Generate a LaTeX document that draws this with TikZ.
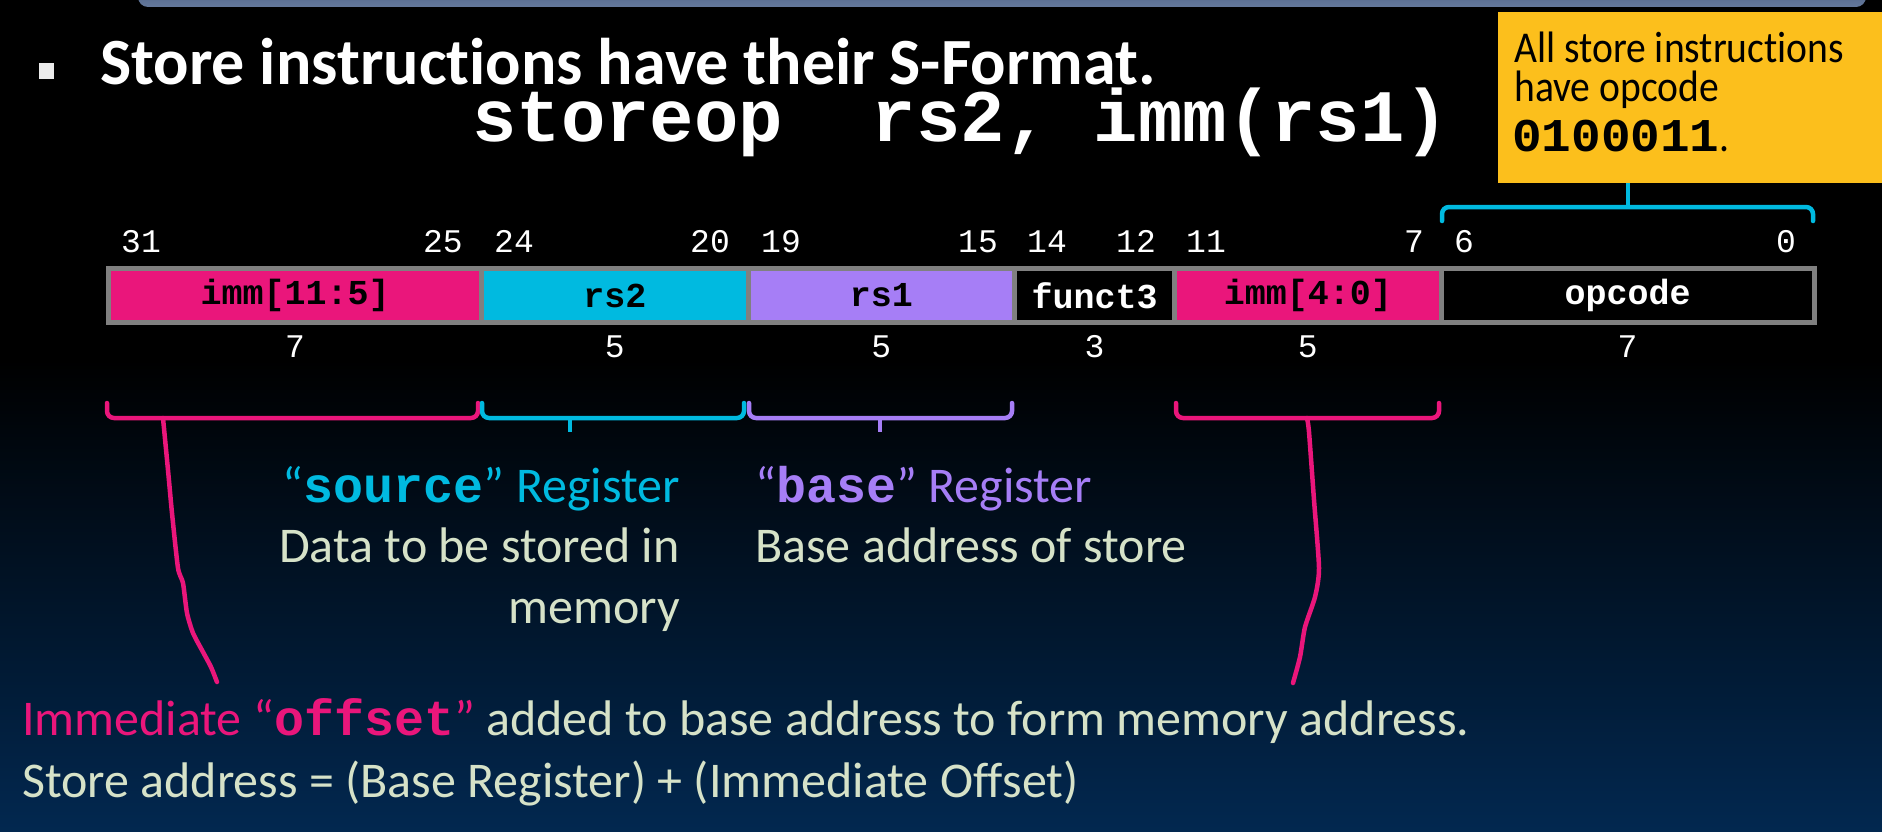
\documentclass[tikz,border=0pt]{standalone}
\usepackage{fontspec}
\setmainfont{Carlito}[Ligatures=CommonOff]
\newfontfamily\monofont{Liberation Mono}
\newfontfamily\boxfont{Carlito}[Ligatures=CommonOff, FakeStretch=0.9]
\newfontfamily\boxmono{Liberation Mono}[FakeStretch=1.05]
\usetikzlibrary{calc}

\definecolor{immpink}{RGB}{234,22,123}
\definecolor{srccyan}{RGB}{0,186,224}
\definecolor{baselilac}{RGB}{166,126,246}
\definecolor{amber}{RGB}{252,191,28}
\definecolor{sage}{RGB}{214,226,200}
\definecolor{framegray}{RGB}{128,128,128}
\definecolor{deepnavy}{RGB}{2,40,80}
\definecolor{slatetop}{RGB}{60,80,115}
\definecolor{slatebot}{RGB}{100,120,155}

\tikzset{
  field/.style={draw=framegray, line width=5pt, minimum height=54pt, inner sep=0pt,
    anchor=west, font=\monofont\bfseries\fontsize{35}{40}\selectfont},
  bitnum/.style={inner sep=0pt, text=white, font=\monofont\fontsize{33}{40}\selectfont},
  brace/.style={line width=4.5pt, rounded corners=7pt, line cap=round},
  hand/.style={line width=4.5pt, draw=immpink, line cap=round, line join=round},
  txt/.style={inner sep=0pt, anchor=base west, font=\fontsize{50}{60}\selectfont},
  boxtxt/.style={inner sep=0pt, anchor=base west, text=black, font=\boxfont\fontsize{44}{52}\selectfont},
}

\begin{document}
\begin{tikzpicture}[x=1pt,y=-1pt]
\useasboundingbox (0,0) rectangle (1882,832);

% background: black fading into deep navy towards the bottom
\fill[black] (0,0) rectangle (1882,832);
\shade[top color=black, bottom color=deepnavy] (0,360) rectangle (1882,832);

% lower edge of the slide title bar
\shade[top color=slatetop, bottom color=slatebot, rounded corners=10pt] (138,-30) rectangle (1866,7);

% heading
\node[fill=white!92!black, minimum width=15pt, minimum height=16pt, inner sep=0pt] (bullet) at (46,71) {};
\node[inner sep=0pt, anchor=base west, text depth=0pt, text=white,
      font=\bfseries\fontsize{66}{80}\selectfont] (title) at (100,85) {Store instructions have their S-Format.};
\node[inner sep=0pt, anchor=base west, text height=46pt, text=white,
      font=\monofont\bfseries\fontsize{74}{88}\selectfont] (syntax) at (472,142) {storeop\ \ rs2,\ imm(rs1)};

% opcode call-out
\node[fill=amber, anchor=north west, minimum width=384pt, minimum height=171pt, inner sep=0pt] (opbox) at (1498,12) {};
\node[boxtxt, text depth=0pt] (ob1) at (1514,63) {All store instructions};
\node[boxtxt] (ob2) at (1514,102) {have opcode};
\node[boxtxt] (ob3) at (1512,151) {{\boxmono\bfseries\fontsize{47}{56}\selectfont 0100011}.};

% instruction fields
\node[field, fill=immpink, minimum width=373.1pt] (f1) at (106,295.5) {imm[11:5]};
\node[field, fill=srccyan, minimum width=266.5pt] (f2) at (479.1,295.5) {rs2};
\node[field, fill=baselilac, minimum width=266.5pt] (f3) at (745.6,295.5) {rs1};
\node[field, fill=black, text=white, minimum width=159.9pt] (f4) at (1012.1,295.5) {funct3};
\node[field, fill=immpink, minimum width=266.5pt] (f5) at (1172,295.5) {imm[4:0]};
\node[field, fill=black, text=white, minimum width=373.1pt] (f6) at (1438.5,295.5) {opcode};

% bit positions
\node[bitnum, anchor=base west] (b31) at (121,252) {31};
\node[bitnum, anchor=base east] (b25) at (463,252) {25};
\node[bitnum, anchor=base west] (b24) at (494,252) {24};
\node[bitnum, anchor=base east] (b20) at (730,252) {20};
\node[bitnum, anchor=base west] (b19) at (761,252) {19};
\node[bitnum, anchor=base east] (b15) at (998,252) {15};
\node[bitnum, anchor=base west] (b14) at (1027,252) {14};
\node[bitnum, anchor=base east] (b12) at (1156,252) {12};
\node[bitnum, anchor=base west] (b11) at (1186,252) {11};
\node[bitnum, anchor=base east] (b7)  at (1424,252) {7};
\node[bitnum, anchor=base west] (b6)  at (1454,252) {6};
\node[bitnum, anchor=base east] (b0)  at (1796,252) {0};

% field widths
\node[bitnum, anchor=base] (w1) at (f1.center |- 0,357) {7};
\node[bitnum, anchor=base] (w2) at (f2.center |- 0,357) {5};
\node[bitnum, anchor=base] (w3) at (f3.center |- 0,357) {5};
\node[bitnum, anchor=base] (w4) at (f4.center |- 0,357) {3};
\node[bitnum, anchor=base] (w5) at (f5.center |- 0,357) {5};
\node[bitnum, anchor=base] (w6) at (f6.center |- 0,357) {7};

% brace over the opcode
\draw[brace, srccyan] (1442,221) -- (1442,207) -- (1813,207) -- (1813,221);
\draw[line width=4.5pt, srccyan] (1628,207) -- (opbox.south -| 1628,0);

% braces under the fields
\draw[brace, immpink]   (107,403) -- (107,418) -- (478,418) -- (478,403);
\draw[brace, srccyan]   (482,403) -- (482,418) -- (744,418) -- (744,403);
\draw[line width=4.5pt, srccyan] (570,418) -- (570,432);
\draw[brace, baselilac] (749,403) -- (749,418) -- (1012,418) -- (1012,403);
\draw[line width=4.5pt, baselilac] (880,418) -- (880,432);
\draw[brace, immpink]   (1176,403) -- (1176,418) -- (1439,418) -- (1439,403);

% register descriptions
\node[txt, anchor=base east, text=srccyan] (srcA) at (680,502) {“{\monofont\bfseries source}” Register};
\node[txt, anchor=base east, text=sage] (srcB) at (680,562) {Data to be stored in};
\node[txt, anchor=base east, text=sage] (srcC) at (680,623) {memory};
\node[txt, text=baselilac] (baseA) at (755,502) {“{\monofont\bfseries base}” Register};
\node[txt, text=sage] (baseB) at (755,562) {Base address of store};

% offset description
\node[txt, text=sage] (offA) at (22,735) {\textcolor{immpink}{Immediate “{\monofont\bfseries offset}”} added to base address to form memory address.};
\node[txt, text=sage] (offB) at (22,797) {Store address = (Base Register) + (Immediate Offset)};

% hand-drawn leaders from the immediate braces
\draw[hand] plot[smooth, tension=0.4] coordinates {(163,418) (168,470) (172,513) (178,568) (183,583) (187,613) (193,633) (203,652) (211,667) (217,682)};
\draw[hand] plot[smooth, tension=0.4] coordinates {(1307,418) (1309,432) (1314,500) (1319,568) (1315,597) (1305,627) (1300,657) (1293,683)};
\end{tikzpicture}
\end{document}
